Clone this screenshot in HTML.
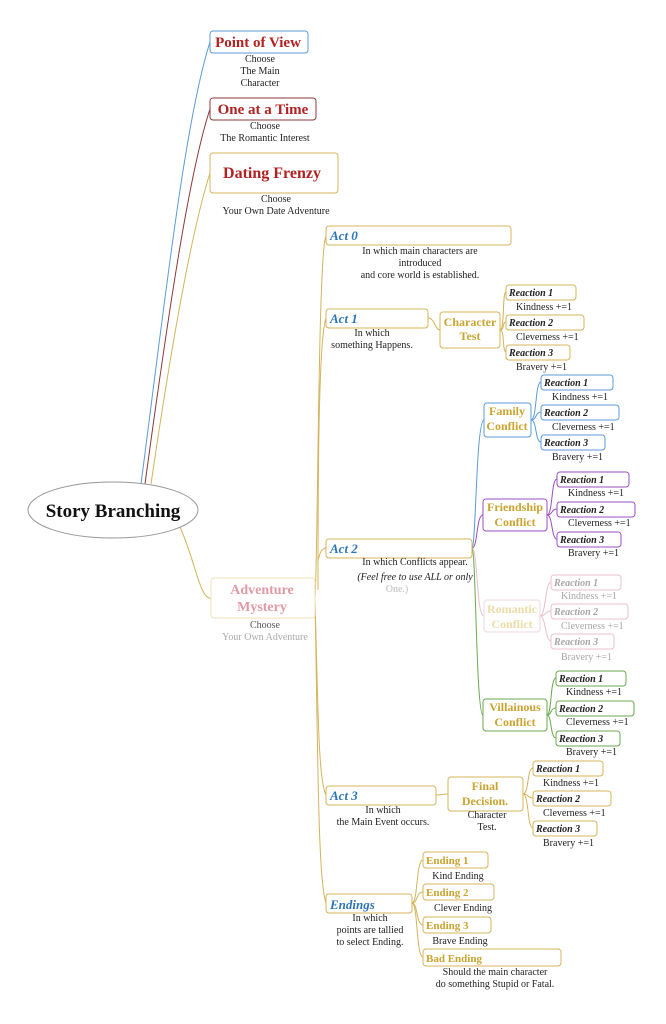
<!DOCTYPE html>
<html><head><meta charset="utf-8"><style>
html,body{margin:0;padding:0;background:#fff}
svg{display:block}
text{font-family:"Liberation Serif",serif}
.n{font-size:10px;fill:#222;text-anchor:middle}
.r{font-size:10px;font-weight:bold;font-style:italic;fill:#222}
.act{font-size:13px;font-weight:bold;font-style:italic;fill:#2e75b6}
.g{font-size:12px;font-weight:bold;fill:#c9a430;text-anchor:middle}
</style></head><body>
<svg width="666" height="1024" viewBox="0 0 666 1024" xmlns="http://www.w3.org/2000/svg">
<g fill="none" stroke-width="1">
<path d="M141,484 C165,300 185,120 210,42" stroke="#5b9bd5"/>
<path d="M145,484 C170,300 190,170 210,109" stroke="#8b3a3a"/>
<path d="M151,484 C175,320 195,220 210,173" stroke="#d4b45a"/>
<path d="M180,527 C195,560 200,600 211,598" stroke="#d4b45a"/>
<path d="M315,598 C318,560 318,250 326,236" stroke="#d4b45a"/>
<path d="M318,590 C318,500 318,340 326,318" stroke="#d4b45a"/>
<path d="M318,560 C320,555 320,549 326,548" stroke="#d4b45a"/>
<path d="M315,600 C318,700 318,780 326,795" stroke="#d4b45a"/>
<path d="M315,600 C318,760 318,880 326,903" stroke="#d4b45a"/>
<path d="M428,318 C435,318 435,330 440,330" stroke="#d4b45a"/>
<path d="M500,330 C505,330 502,292 506,292" stroke="#d4b45a"/>
<path d="M500,330 C505,330 502,322 506,322" stroke="#d4b45a"/>
<path d="M500,330 C505,330 502,352 506,352" stroke="#d4b45a"/>
<path d="M472,548 C476,548 476,420 484,420" stroke="#5b9bd5"/>
<path d="M472,548 C478,548 476,515 483,515" stroke="#9b4fc0"/>
<path d="M472,548 C478,548 476,616 484,616" stroke="#e8c0cc"/>
<path d="M472,548 C476,548 476,715 483,715" stroke="#6aa84f"/>
<path d="M531,420 C537,420 535,382 541,382" stroke="#5b9bd5"/>
<path d="M531,420 C537,420 535,412 541,412" stroke="#5b9bd5"/>
<path d="M531,420 C537,420 535,442 541,442" stroke="#5b9bd5"/>
<path d="M547,515 C553,515 551,479 557,479" stroke="#9b4fc0"/>
<path d="M547,515 C553,515 551,509 557,509" stroke="#9b4fc0"/>
<path d="M547,515 C553,515 551,539 557,539" stroke="#9b4fc0"/>
<path d="M540,616 C546,616 545,582 551,582" stroke="#e8c0cc"/>
<path d="M540,616 C546,616 545,611 551,611" stroke="#e8c0cc"/>
<path d="M540,616 C546,616 545,641 551,641" stroke="#e8c0cc"/>
<path d="M547,715 C552,715 550,678 556,678" stroke="#6aa84f"/>
<path d="M547,715 C552,715 550,708 556,708" stroke="#6aa84f"/>
<path d="M547,715 C552,715 550,738 556,738" stroke="#6aa84f"/>
<path d="M436,795 C442,795 442,794 448,794" stroke="#d4b45a"/>
<path d="M523,794 C529,794 527,768 533,768" stroke="#d4b45a"/>
<path d="M523,794 C529,794 527,798 533,798" stroke="#d4b45a"/>
<path d="M523,794 C529,794 527,828 533,828" stroke="#d4b45a"/>
<path d="M412,903 C418,903 416,860 423,860" stroke="#d4b45a"/>
<path d="M412,903 C418,903 416,892 423,892" stroke="#d4b45a"/>
<path d="M412,903 C418,903 416,925 423,925" stroke="#d4b45a"/>
<path d="M412,903 C418,903 416,957 423,957" stroke="#d4b45a"/>
</g>
<ellipse cx="113" cy="510" rx="85" ry="28" fill="#fff" stroke="#999"/>
<text x="113" y="517" font-size="19" font-weight="bold" text-anchor="middle" fill="#111">Story Branching</text>

<g fill="#fff">
<rect x="210" y="31" width="98" height="22" rx="3" stroke="#5b9bd5"/>
<rect x="210" y="98" width="106" height="22" rx="3" stroke="#8b3a3a"/>
<rect x="210" y="153" width="128" height="40" rx="3" stroke="#d4b45a"/>
<rect x="211" y="578" width="104" height="40" rx="3" stroke="#f0e2b8"/>
<rect x="326" y="226" width="185" height="19" rx="3" stroke="#d4b45a"/>
<rect x="326" y="309" width="102" height="19" rx="3" stroke="#d4b45a"/>
<rect x="440" y="312" width="60" height="36" rx="3" stroke="#d4b45a"/>
<rect x="326" y="539" width="146" height="19" rx="3" stroke="#d4b45a"/>
<rect x="484" y="403" width="47" height="34" rx="3" stroke="#5b9bd5"/>
<rect x="483" y="499" width="64" height="32" rx="3" stroke="#9b4fc0"/>
<rect x="484" y="600" width="56" height="32" rx="3" stroke="#eed8e0"/>
<rect x="483" y="699" width="64" height="32" rx="3" stroke="#6aa84f"/>
<rect x="326" y="786" width="110" height="19" rx="3" stroke="#d4b45a"/>
<rect x="448" y="777" width="75" height="34" rx="3" stroke="#d4b45a"/>
<rect x="326" y="894" width="86" height="19" rx="3" stroke="#d4b45a"/>
<rect x="423" y="852" width="65" height="16" rx="3" stroke="#d4b45a"/>
<rect x="423" y="884" width="71" height="16" rx="3" stroke="#d4b45a"/>
<rect x="423" y="917" width="68" height="16" rx="3" stroke="#d4b45a"/>
<rect x="423" y="949" width="138" height="17" rx="3" stroke="#d4b45a"/>
<g stroke="#d4b45a"><rect x="506" y="285" width="70" height="15" rx="3"/><rect x="506" y="315" width="78" height="15" rx="3"/><rect x="506" y="345" width="64" height="15" rx="3"/>
<rect x="533" y="761" width="70" height="15" rx="3"/><rect x="533" y="791" width="78" height="15" rx="3"/><rect x="533" y="821" width="64" height="15" rx="3"/></g>
<g stroke="#5b9bd5"><rect x="541" y="375" width="72" height="15" rx="3"/><rect x="541" y="405" width="78" height="15" rx="3"/><rect x="541" y="435" width="64" height="15" rx="3"/></g>
<g stroke="#9b4fc0"><rect x="557" y="472" width="72" height="15" rx="3"/><rect x="557" y="502" width="78" height="15" rx="3"/><rect x="557" y="532" width="64" height="15" rx="3"/></g>
<g stroke="#e8c0cc"><rect x="551" y="575" width="70" height="15" rx="3"/><rect x="551" y="604" width="77" height="15" rx="3"/><rect x="551" y="634" width="63" height="15" rx="3"/></g>
<g stroke="#6aa84f"><rect x="556" y="671" width="70" height="15" rx="3"/><rect x="556" y="701" width="78" height="15" rx="3"/><rect x="556" y="731" width="64" height="15" rx="3"/></g>
</g>

<g fill="#b22222" font-weight="bold" text-anchor="middle">
<text x="258" y="47" font-size="15">Point of View</text>
<text x="263" y="114" font-size="15">One at a Time</text>
<text x="272" y="178" font-size="16">Dating Frenzy</text>
</g>
<text class="n" x="260" y="62">Choose</text><text class="n" x="260" y="74">The Main</text><text class="n" x="260" y="86">Character</text>
<text class="n" x="265" y="129">Choose</text><text class="n" x="265" y="141">The Romantic Interest</text>
<text class="n" x="276" y="202">Choose</text><text class="n" x="276" y="214">Your Own Date Adventure</text>
<text x="262" y="594" font-size="14" font-weight="bold" fill="#e09aa6" text-anchor="middle">Adventure</text>
<text x="262" y="611" font-size="14" font-weight="bold" fill="#e09aa6" text-anchor="middle">Mystery</text>
<text class="n" x="265" y="628" style="fill:#555">Choose</text><text class="n" x="265" y="640" style="fill:#aaa">Your Own Adventure</text>

<text class="act" x="330" y="240">Act 0</text>
<text class="n" x="420" y="254">In which main characters are</text><text class="n" x="420" y="266">introduced</text><text class="n" x="420" y="278">and core world is established.</text>
<text class="act" x="330" y="323">Act 1</text>
<text class="n" x="372" y="336">In which</text><text class="n" x="372" y="348">something Happens.</text>
<text class="g" x="470" y="326">Character</text><text class="g" x="470" y="340">Test</text>
<text class="act" x="330" y="553">Act 2</text>
<text class="n" x="415" y="565">In which Conflicts appear.</text>
<text class="n" x="415" y="580" style="font-style:italic">(Feel free to use ALL or only</text>
<text class="n" x="397" y="592" style="fill:#bbb">One.)</text>
<text class="g" x="507" y="415">Family</text><text class="g" x="507" y="430">Conflict</text>
<text class="g" x="515" y="511">Friendship</text><text class="g" x="515" y="526">Conflict</text>
<text class="g" x="512" y="613" style="fill:#eedca8">Romantic</text><text class="g" x="512" y="628" style="fill:#eedca8">Conflict</text>
<text class="g" x="515" y="711">Villainous</text><text class="g" x="515" y="726">Conflict</text>
<text class="act" x="330" y="800">Act 3</text>
<text class="n" x="383" y="813">In which</text><text class="n" x="383" y="825">the Main Event occurs.</text>
<text class="g" x="485" y="790">Final</text><text class="g" x="485" y="805">Decision.</text>
<text class="n" x="487" y="818">Character</text><text class="n" x="487" y="830">Test.</text>
<text class="act" x="330" y="909">Endings</text>
<text class="n" x="370" y="921">In which</text><text class="n" x="370" y="933">points are tallied</text><text class="n" x="370" y="945">to select Ending.</text>
<g font-size="11" font-weight="bold" fill="#c9a430">
<text x="426" y="864">Ending 1</text><text x="426" y="896">Ending 2</text><text x="426" y="929">Ending 3</text><text x="426" y="962">Bad Ending</text>
</g>
<text class="n" x="458" y="879">Kind Ending</text><text class="n" x="463" y="911">Clever Ending</text><text class="n" x="460" y="944">Brave Ending</text>
<text class="n" x="495" y="975">Should the main character</text><text class="n" x="495" y="987">do something Stupid or Fatal.</text>

<g>
<text class="r" x="509" y="296">Reaction 1</text><text class="r" x="509" y="326">Reaction 2</text><text class="r" x="509" y="356">Reaction 3</text>
<text x="516" y="310" font-size="10" fill="#222">Kindness +=1</text><text x="516" y="340" font-size="10" fill="#222">Cleverness +=1</text><text x="516" y="370" font-size="10" fill="#222">Bravery +=1</text>
<text class="r" x="544" y="386">Reaction 1</text><text class="r" x="544" y="416">Reaction 2</text><text class="r" x="544" y="446">Reaction 3</text>
<text x="552" y="400" font-size="10" fill="#222">Kindness +=1</text><text x="552" y="430" font-size="10" fill="#222">Cleverness +=1</text><text x="552" y="460" font-size="10" fill="#222">Bravery +=1</text>
<text class="r" x="560" y="483">Reaction 1</text><text class="r" x="560" y="513">Reaction 2</text><text class="r" x="560" y="543">Reaction 3</text>
<text x="568" y="496" font-size="10" fill="#222">Kindness +=1</text><text x="568" y="526" font-size="10" fill="#222">Cleverness +=1</text><text x="568" y="556" font-size="10" fill="#222">Bravery +=1</text>
<g style="opacity:0.4"><text class="r" x="554" y="586">Reaction 1</text><text class="r" x="554" y="615">Reaction 2</text><text class="r" x="554" y="645">Reaction 3</text>
<text x="561" y="599" font-size="10" fill="#222">Kindness +=1</text><text x="561" y="629" font-size="10" fill="#222">Cleverness +=1</text><text x="561" y="660" font-size="10" fill="#222">Bravery +=1</text></g>
<text class="r" x="559" y="682">Reaction 1</text><text class="r" x="559" y="712">Reaction 2</text><text class="r" x="559" y="742">Reaction 3</text>
<text x="566" y="695" font-size="10" fill="#222">Kindness +=1</text><text x="566" y="725" font-size="10" fill="#222">Cleverness +=1</text><text x="566" y="755" font-size="10" fill="#222">Bravery +=1</text>
<text class="r" x="536" y="772">Reaction 1</text><text class="r" x="536" y="802">Reaction 2</text><text class="r" x="536" y="832">Reaction 3</text>
<text x="543" y="786" font-size="10" fill="#222">Kindness +=1</text><text x="543" y="816" font-size="10" fill="#222">Cleverness +=1</text><text x="543" y="846" font-size="10" fill="#222">Bravery +=1</text>
</g>
</svg>
</body></html>
